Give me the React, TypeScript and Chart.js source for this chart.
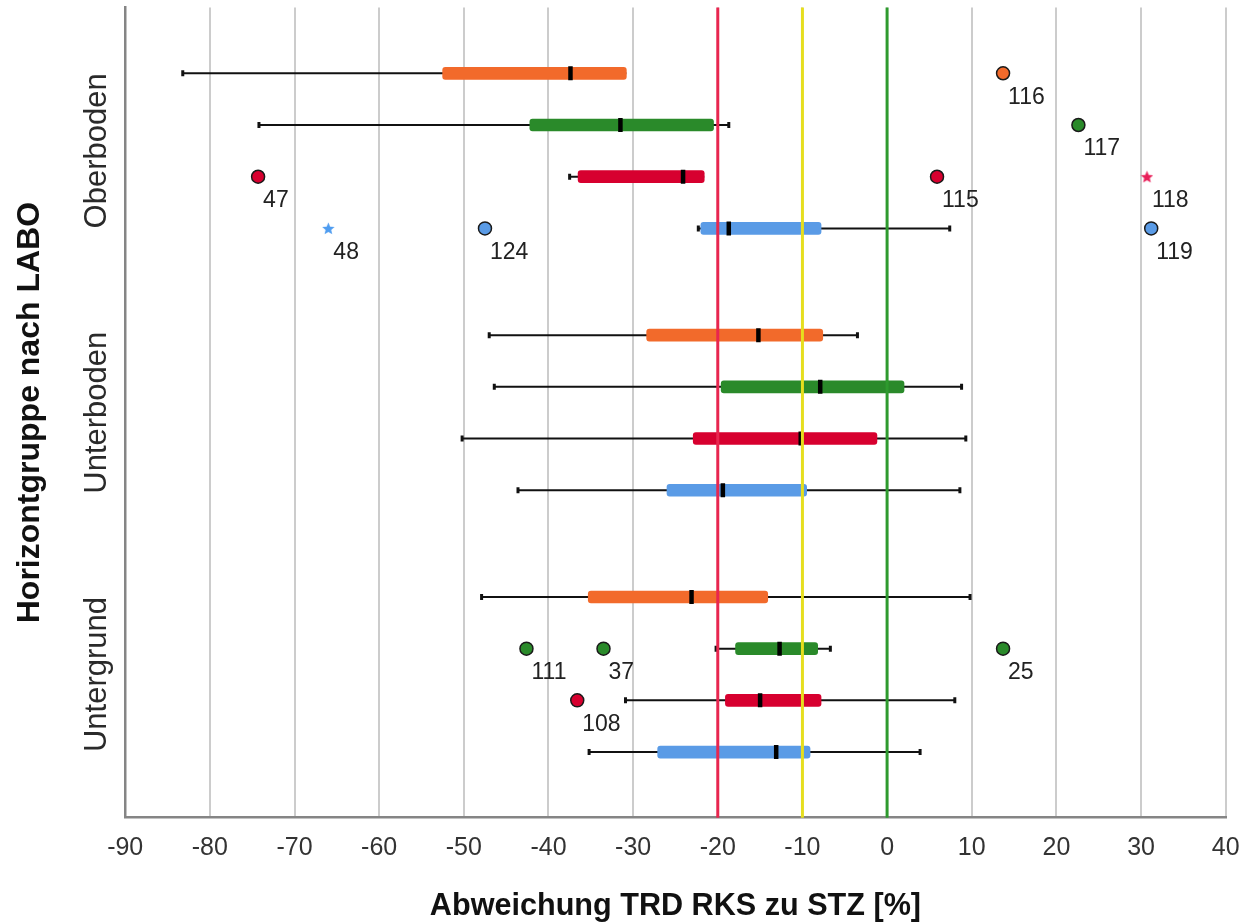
import React, { useEffect, useRef } from 'react';
import { Chart, registerables } from 'chart.js';

Chart.register(...registerables);

// ---------- data ----------
const groupLabels = ['Oberboden', 'Unterboden', 'Untergrund'];
// rows in each group: series 0 (orange), 1 (green), 2 (red), 3 (blue)
const whiskerLow = [-83.2, -74.2, -37.5, -22.3, -47.0, -46.4, -50.2, -43.6, -47.9, -20.2, -30.9, -35.2];
const quartile1 = [-52.5, -42.2, -36.5, -22.0, -28.4, -19.6, -22.9, -26.0, -35.3, -17.9, -19.1, -27.1];
const medians = [-37.4, -31.5, -24.1, -18.7, -15.2, -7.9, -10.2, -19.4, -23.1, -12.7, -15.0, -13.1];
const quartile3 = [-30.8, -20.5, -21.6, -7.8, -7.6, 2.0, -1.2, -9.5, -14.1, -8.2, -7.8, -9.1];
const whiskerHigh = [-30.8, -18.7, -21.6, 7.4, -3.5, 8.8, 9.3, 8.6, 9.8, -6.7, 8.0, 3.9];

const outlierRow = [0, 1, 2, 2, 2, 3, 3, 3, 9, 9, 9, 10];
const outlierValue = [13.7, 22.6, -74.3, 5.9, 30.7, -47.5, -66.0, 31.2, -42.6, -33.5, 13.7, -36.6];
const outlierCase = ['116', '117', '47', '115', '118', '124', '48', '119', '111', '37', '25', '108'];
const outlierExtreme = [false, false, false, false, true, false, true, false, false, false, false, false];

const referenceLines = [-20, -10, 0];
const xTicksMin = -90;
const xTicksMax = 40;

// ---------- styles ----------
const seriesColors = ['#F26A2B', '#2A8A2A', '#D7002F', '#5A9BE6'];
const starColors = ['#F26A2B', '#2A8A2A', '#E8205A', '#4E9CF0'];
const refColors = ['#E8264F', '#E6DE1E', '#2E9A2E'];
const FONT = '"Liberation Sans", Arial, sans-serif';
const SERIES_PER_GROUP = 4;
const GROUP_STEP = 5.065;

const rowPos = (i: number) => Math.floor(i / SERIES_PER_GROUP) * GROUP_STEP + (i % SERIES_PER_GROUP);
const rowColor = (i: number) => seriesColors[i % SERIES_PER_GROUP];

function makeStar(color: string, size: number) {
  const c = document.createElement('canvas');
  c.width = size;
  c.height = size;
  const g = c.getContext('2d')!;
  g.fillStyle = color;
  g.beginPath();
  const cx = size / 2, cy = size / 2 + 0.6, R = size / 2, r = R * 0.45;
  for (let k = 0; k < 10; k++) {
    const a = -Math.PI / 2 + (k * Math.PI) / 5;
    const rad = k % 2 === 0 ? R : r;
    g.lineTo(cx + rad * Math.cos(a), cy + rad * Math.sin(a));
  }
  g.closePath();
  g.fill();
  return c;
}

const zeroPadding = (s: any) => {
  s.paddingLeft = 0;
  s.paddingRight = 0;
  s.paddingTop = 0;
  s.paddingBottom = 0;
};

export default function App() {
  const ref = useRef<HTMLCanvasElement | null>(null);

  useEffect(() => {
    document.body.style.margin = '0';
    const canvas = ref.current!;
    const rows = whiskerLow.map((_, i) => i);

    const whiskerSets = rows.map((i) => ({
      type: 'line' as const,
      data: [
        { x: whiskerLow[i], y: rowPos(i) },
        { x: whiskerHigh[i], y: rowPos(i) },
      ],
      borderColor: '#111',
      borderWidth: 2,
      pointRadius: 0,
      fill: false,
      order: 6,
    }));

    const capSet = {
      type: 'scatter' as const,
      data: rows.flatMap((i) => {
        const pts: { x: number; y: number }[] = [];
        if (whiskerLow[i] < quartile1[i]) pts.push({ x: whiskerLow[i], y: rowPos(i) });
        if (whiskerHigh[i] > quartile3[i]) pts.push({ x: whiskerHigh[i], y: rowPos(i) });
        return pts;
      }),
      pointStyle: 'line',
      rotation: 90,
      pointRadius: 3,
      borderColor: '#111',
      borderWidth: 3,
      order: 5,
    };

    const boxSet = {
      type: 'bar' as const,
      indexAxis: 'y' as const,
      data: rows.map((i) => ({ x: [quartile1[i], quartile3[i]], y: rowPos(i) })),
      backgroundColor: rows.map((i) => rowColor(i)),
      barThickness: 12,
      borderRadius: 3,
      borderSkipped: false,
      order: 4,
    };

    const medianSet = {
      type: 'scatter' as const,
      data: rows.map((i) => ({ x: medians[i], y: rowPos(i) })),
      pointStyle: 'line',
      rotation: 90,
      pointRadius: 7,
      borderColor: '#000',
      borderWidth: 4.5,
      order: 3,
    };

    const outlierSet = {
      type: 'scatter' as const,
      data: outlierValue.map((v, k) => ({ x: v, y: rowPos(outlierRow[k]) })),
      pointStyle: outlierValue.map((_, k) =>
        outlierExtreme[k] ? makeStar(starColors[outlierRow[k] % SERIES_PER_GROUP], 13) : 'circle'
      ),
      pointRadius: 6.5,
      pointBackgroundColor: outlierRow.map((r) => rowColor(r)),
      pointBorderColor: '#1a1a1a',
      pointBorderWidth: 1.5,
      order: 2,
    };

    const refSets = referenceLines.map((v, k) => ({
      type: 'line' as const,
      data: [
        { x: v, y: -5 },
        { x: v, y: 20 },
      ],
      borderColor: refColors[k],
      borderWidth: 3,
      pointRadius: 0,
      fill: false,
      order: 1,
    }));

    const datasets: any[] = [...refSets, outlierSet, medianSet, boxSet, capSet, ...whiskerSets];
    const outlierIndex = refSets.length;

    const textPlugin = {
      id: 'textPlugin',
      afterDraw(chart: any) {
        const ctx = chart.ctx as CanvasRenderingContext2D;
        const ys = chart.scales.y;
        const area = chart.chartArea;
        ctx.save();
        // outlier case numbers
        const meta = chart.getDatasetMeta(outlierIndex);
        ctx.font = `23px ${FONT}`;
        ctx.fillStyle = '#222';
        ctx.textAlign = 'left';
        ctx.textBaseline = 'middle';
        meta.data.forEach((pt: any, k: number) => {
          ctx.fillText(outlierCase[k], pt.x + 5, pt.y + 24);
        });
        // group labels
        ctx.font = `31px ${FONT}`;
        ctx.fillStyle = '#2a2a2a';
        ctx.textAlign = 'center';
        groupLabels.forEach((g, gi) => {
          const cy = ys.getPixelForValue(gi * GROUP_STEP + (SERIES_PER_GROUP - 1) / 2);
          ctx.save();
          ctx.translate(97, cy);
          ctx.rotate(-Math.PI / 2);
          ctx.fillText(g, 0, 0);
          ctx.restore();
        });
        // axis titles
        ctx.font = `bold 30.6px ${FONT}`;
        ctx.fillStyle = '#111';
        ctx.fillText('Abweichung TRD RKS zu STZ [%]', (area.left + area.right) / 2, 907);
        ctx.font = `bold 32px ${FONT}`;
        ctx.save();
        ctx.translate(30, (area.top + area.bottom) / 2);
        ctx.rotate(-Math.PI / 2);
        ctx.fillText('Horizontgruppe nach LABO', 0, 0);
        ctx.restore();
        ctx.restore();
      },
    };

    const chart = new Chart(canvas, {
      type: 'scatter',
      data: { datasets },
      options: {
        responsive: false,
        animation: false,
        devicePixelRatio: 1,
        layout: { autoPadding: false, padding: { left: 0, top: 7.5, right: 13.3, bottom: 0 } },
        plugins: { legend: { display: false }, tooltip: { enabled: false } },
        scales: {
          x: {
            type: 'linear',
            min: xTicksMin,
            max: xTicksMax,
            offset: false,
            beginAtZero: false,
            ticks: {
              stepSize: 10,
              autoSkip: false,
              maxRotation: 0,
              padding: 15,
              color: '#333',
              font: { family: FONT, size: 25 },
            },
            grid: { color: '#cccccc', lineWidth: 2, drawTicks: false, offset: false },
            border: { display: true, color: '#858585', width: 2.5 },
            afterFit: (s: any) => {
              s.height = 105.3;
              zeroPadding(s);
            },
          },
          y: {
            type: 'linear',
            reverse: true,
            min: -1.273,
            max: 14.4,
            offset: false,
            ticks: { display: false },
            grid: { display: false, drawTicks: false },
            border: { display: true, color: '#858585', width: 2.5 },
            afterFit: (s: any) => {
              s.width = 125.2;
              zeroPadding(s);
            },
          },
        },
      } as any,
      plugins: [textPlugin],
    });

    return () => chart.destroy();
  }, []);

  return (
    <div style={{ width: 1239, height: 923 }}>
      <canvas ref={ref} width={1239} height={923} />
    </div>
  );
}
